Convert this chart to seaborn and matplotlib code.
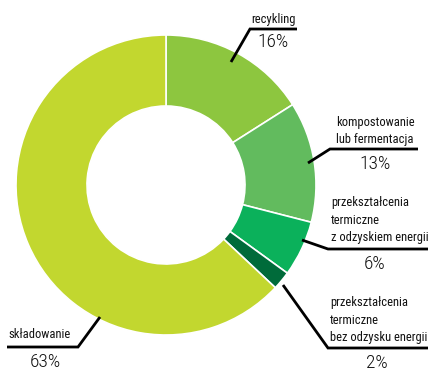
import matplotlib
matplotlib.use("Agg")
import os
import matplotlib.pyplot as plt
from matplotlib import font_manager as fm
import seaborn as sns

# ---- data ----
categories = ["recykling", "kompostowanie\nlub fermentacja",
              "przekształcenia\ntermiczne\nz odzyskiem energii",
              "przekształcenia\ntermiczne\nbez odzysku energii",
              "składowanie"]
values = [16, 13, 6, 2, 63]
pct_labels = ["16%", "13%", "6%", "2%", "63%"]
colors = ["#8dc63f", "#62bb5e", "#0bb15b", "#006b3a", "#c2d72f"]

sns.set_theme(style="white")
plt.rcParams['font.family'] = ['Liberation Sans', 'DejaVu Sans']

files = {os.path.basename(f.fname).lower(): f.fname for f in fm.fontManager.ttflist}

def find_font(prefs):
    for p in prefs:
        for b, path in files.items():
            if b.startswith(p) and "bold" not in b and "italic" not in b:
                return path
    return None

label_file = find_font(["liberationsansnarrow-regular", "robotocondensed-regular",
                        "notosans-condensed.", "notosans-condensedregular",
                        "opensans-condensed", "dejavusanscondensed.", "lato-regular"])
pct_file = find_font(["robotocondensed-light.", "notosans-condensedlight"]) or label_file
fallback = fm.FontProperties(family=['Liberation Sans', 'DejaVu Sans'])
fp = fm.FontProperties(fname=label_file) if label_file else fallback
fpp = fm.FontProperties(fname=pct_file) if pct_file else fallback

W, H = 430, 371
fig = plt.figure(figsize=(W / 100, H / 100), dpi=100)
ax = fig.add_axes([0, 0, 1, 1])

def Y(y):
    return H - y

cx, cy, R, ring = 166, 185, 150, 71
ax.pie(values, colors=sns.color_palette(colors), startangle=90, counterclock=False,
       center=(cx, Y(cy)), radius=R,
       wedgeprops=dict(width=ring, edgecolor="white", linewidth=1.2))

# ---- annotation layout (pixel coordinates, y from top) ----
leaders = [
    [(231, 62), (250, 29), (297, 29)],
    [(308, 163), (330, 149), (418, 149)],
    [(302, 240), (328, 249), (428, 249)],
    [(283, 285), (328, 348), (428, 348)],
    [(100, 317), (78, 347), (7, 347)],
]
name_pos = [(273, 19, "center"), (375, 131, "center"), (331, 220, "left"),
            (330, 320, "left"), (40, 335, "center")]
pct_pos = [(273, 42), (375, 164), (375, 264), (377, 363), (45, 362)]

# size the label font so the widest line matches the reference width (~96 px)
renderer = fig.canvas.get_renderer()
probe = ax.text(0, 0, "z odzyskiem energii", fontproperties=fp, fontsize=10)
wpx = probe.get_window_extent(renderer).width
probe.remove()
lab_size = min(10.0, 10.0 * 96.0 / wpx)
pct_size = min(15.0, lab_size * 1.55)

for i in range(len(values)):
    pts = leaders[i]
    ax.plot([p[0] for p in pts], [Y(p[1]) for p in pts], color="black",
            lw=2.0, solid_capstyle="butt", solid_joinstyle="miter", zorder=5)
    x, y, ha = name_pos[i]
    ax.text(x, Y(y), categories[i], ha=ha, va="center", fontproperties=fp,
            fontsize=lab_size, linespacing=1.45, color="#111111")
    px, py = pct_pos[i]
    ax.text(px, Y(py), pct_labels[i], ha="center", va="center", fontproperties=fpp,
            fontsize=pct_size, color="#111111")

ax.set_xlim(0, W)
ax.set_ylim(0, H)
ax.set_aspect("equal")
ax.axis("off")
fig.savefig("out.png", dpi=100)
